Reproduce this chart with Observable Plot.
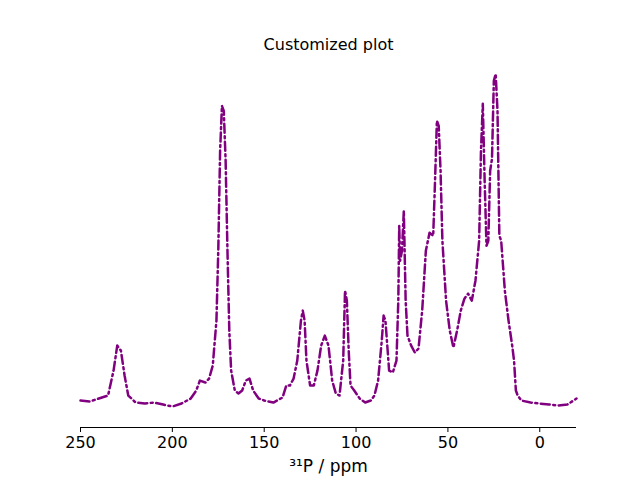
<!DOCTYPE html>
<html><head>
<script src="https://cdn.jsdelivr.net/npm/d3@7"></script>
<script src="https://cdn.jsdelivr.net/npm/@observablehq/plot@0.6"></script>
<style>body{margin:0;background:#fff;font-family:"DejaVu Sans",sans-serif;}</style>
</head><body><div id="chart"></div>
<script>
// chemical shift (ppm) and intensity (arbitrary units)
const ppm = [250,245,240,235,232,230,228,226,224,220,215,210,205,200,195,190,187,185,182,180,178,176,175,174,173,172,171,170,169,168,166,164,162,160,158,156,153,150,145,140,138,136,134,132,130,129,128,127,125,123,121,119,117,115,113,111,109,107,106,105,104,103,101,98,95,92,90,88,86,85,84,82,80,78,77,76.5,76,75,74,73,72,70,68,66,64,62,60,58,57,56,55,54,53,51,49,47,45,43,41,39,37,35,33,32,31,30,29,28,27,26,25,24,23,22,21,19,17,15,14,13,12,10,5,0,-5,-10,-15,-20];
const ypix = [400,401,398,395,370,345,350,375,395,402,403,402,404,406,403,398,390,380,382,378,365,320,250,150,105,110,160,250,330,370,390,393,390,380,378,390,398,400,402,397,385,385,378,360,320,310,320,360,385,385,370,345,335,345,380,393,395,360,290,300,350,385,390,398,402,400,395,380,340,315,320,370,372,360,300,225,260,250,210,300,335,345,352,348,310,250,232,235,180,120,125,170,240,300,330,347,330,310,298,293,300,280,240,150,103,180,245,240,170,158,80,73,110,235,240,290,320,345,360,390,395,400,402,403,404,405,404,398];
const intensity = ypix.map(v => 427 - v);
const data = ppm.map((p, i) => ({ppm: p, y: intensity[i]}));

const chart = Plot.plot({
  width: 640, height: 480,
  marginTop: 58, marginBottom: 53, marginLeft: 80, marginRight: 64,
  style: {fontFamily: "DejaVu Sans", fontSize: "16px", color: "#000"},
  x: {domain: [250, -20], ticks: [250, 200, 150, 100, 50, 0], tickSize: 5, label: null},
  y: {domain: [0, 369.4], axis: null},
  marks: [
    Plot.line(data, {x: "ppm", y: "y", stroke: "purple", strokeWidth: 2.5, strokeDasharray: "9,3.5,2,3.5"}),
    Plot.ruleY([0], {stroke: "#000", strokeWidth: 1}),
    Plot.text(["Customized plot"], {frameAnchor: "top", dy: -20, fontSize: 16}),
    Plot.text(["³¹P / ppm"], {frameAnchor: "bottom", dy: 44, fontSize: 17})
  ]
});
document.getElementById("chart").append(chart);
</script></body></html>
